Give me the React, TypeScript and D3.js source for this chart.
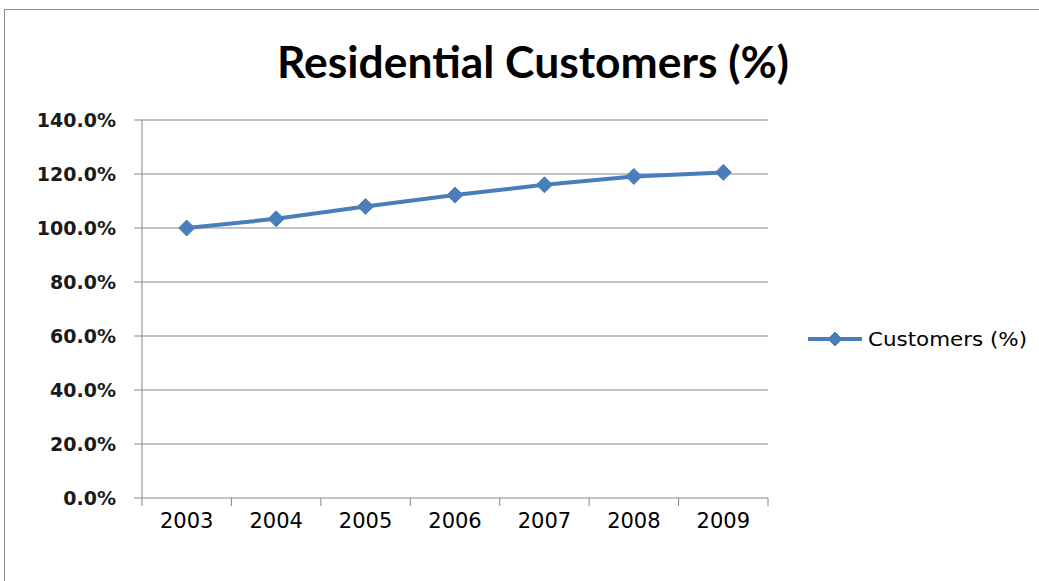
import React from "react";
import * as d3 from "d3";

const years = ["2003", "2004", "2005", "2006", "2007", "2008", "2009"];
const customers = [100.0, 103.4, 108.0, 112.2, 116.0, 119.1, 120.6];
const yTicks = [0, 20, 40, 60, 80, 100, 120, 140];
const title = "Residential Customers (%)";
const seriesName = "Customers (%)";

const W = 1039;
const H = 581;
const plot = { left: 142, right: 768, top: 120, bottom: 498 };
const blue = "#4a7ebb";
const gray = "#878787";
const titleFont = "Lato, 'Open Sans', sans-serif";
const font = "'DejaVu Sans', sans-serif";

function Diamond({ x, y, r }: { x: number; y: number; r: number }) {
  return (
    <path
      d={`M${x},${y - r}L${x + r},${y}L${x},${y + r}L${x - r},${y}Z`}
      fill={blue}
      stroke={blue}
      strokeWidth={1}
    />
  );
}

export default function App() {
  const x = d3.scaleBand<string>().domain(years).range([plot.left, plot.right]);
  const y = d3.scaleLinear().domain([0, 140]).range([plot.bottom, plot.top]);
  const line = d3
    .line<number>()
    .x((_, i) => (x(years[i]) as number) + x.bandwidth() / 2)
    .y((d) => y(d));
  const boundaries = years.map((yr) => x(yr) as number).concat([plot.right]);

  return (
    <svg
      width={W}
      height={H}
      style={{ position: "fixed", left: 0, top: 0, background: "#fff" }}
    >
      <rect x={4.5} y={9.5} width={W + 10} height={H + 10} fill="#fff" stroke="#8c8c8c" strokeWidth={1} />
      <text
        x={533}
        y={78}
        textAnchor="middle"
        fontFamily={titleFont}
        fontWeight={700}
        fontSize={44}
        textLength={512}
        lengthAdjust="spacingAndGlyphs"
        fill="#000"
      >
        {title}
      </text>
      {yTicks.map((t) => (
        <g key={t}>
          {t > 0 && (
            <line x1={plot.left} x2={plot.right} y1={y(t)} y2={y(t)} stroke={gray} strokeWidth={1} />
          )}
          <line x1={plot.left - 8} x2={plot.left} y1={y(t)} y2={y(t)} stroke={gray} strokeWidth={1} />
          <text
            x={116}
            y={y(t)}
            dy="0.36em"
            textAnchor="end"
            fontFamily={font}
            fontWeight={700}
            fontSize={19}
            fill="#1a1a1a"
          >
            {t.toFixed(1) + "%"}
          </text>
        </g>
      ))}
      <line x1={plot.left} x2={plot.left} y1={plot.top} y2={plot.bottom} stroke={gray} strokeWidth={1} />
      <line x1={plot.left} x2={plot.right} y1={plot.bottom} y2={plot.bottom} stroke={gray} strokeWidth={1} />
      {boundaries.map((b, i) => (
        <line key={i} x1={b} x2={b} y1={plot.bottom} y2={plot.bottom + 8} stroke={gray} strokeWidth={1} />
      ))}
      {years.map((yr) => (
        <text
          key={yr}
          x={(x(yr) as number) + x.bandwidth() / 2}
          y={520}
          dy="0.36em"
          textAnchor="middle"
          fontFamily={font}
          fontSize={21}
          fill="#000"
        >
          {yr}
        </text>
      ))}
      <path d={line(customers) || ""} fill="none" stroke={blue} strokeWidth={4} strokeLinejoin="round" />
      {customers.map((c, i) => (
        <Diamond key={i} x={(x(years[i]) as number) + x.bandwidth() / 2} y={y(c)} r={8} />
      ))}
      <line x1={808} x2={862} y1={339} y2={339} stroke={blue} strokeWidth={4} />
      <Diamond x={835} y={339} r={7} />
      <text
        x={868}
        y={339}
        dy="0.36em"
        fontFamily={font}
        fontSize={20}
        textLength={159}
        lengthAdjust="spacingAndGlyphs"
        fill="#000"
      >
        {seriesName}
      </text>
    </svg>
  );
}
